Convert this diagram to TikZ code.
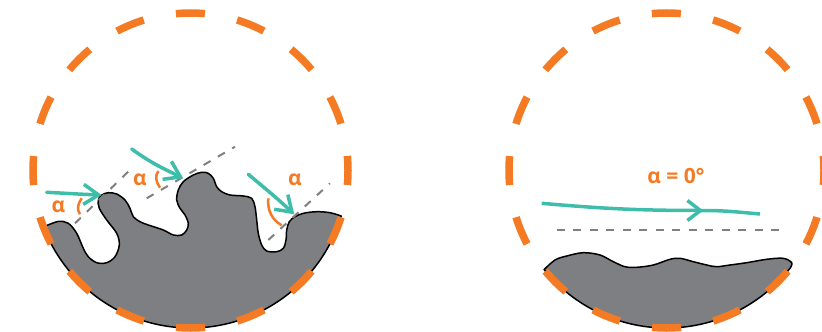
\documentclass[tikz,border=0pt]{standalone}
\usepackage{fontspec}
\setmainfont{Open Sans}
\usetikzlibrary{arrows.meta, decorations.markings}

\definecolor{rimorange}{RGB}{244,122,36}
\definecolor{rayteal}{RGB}{62,189,170}
\definecolor{rockgrey}{RGB}{126,127,130}

\begin{document}
\begin{tikzpicture}[x=1pt,y=1pt,yscale=-1,
		every node/.style={font=\fontsize{21}{24}\selectfont\bfseries}]
		\tikzstyle{rim}=[draw=rimorange, line width=7.5pt,
                  dash pattern=on 29pt off 32.85pt, dash phase=14.5pt]
		\tikzstyle{rock}=[fill=rockgrey, draw=black, line width=1.5pt, line join=round]
		\tikzstyle{ray}=[draw=rayteal, line width=3.5pt, line cap=round,
                  -{Straight Barb[length=15pt,width=20pt]}]
		\tikzstyle{midray}=[draw=rayteal, line width=3.5pt, postaction={decorate},
                  decoration={markings, mark=at position 0.74 with
                  {\arrow{Straight Barb[length=13pt,width=20pt]}}}]
		\tikzstyle{tangent}=[draw=black!50, line width=2pt, dash pattern=on 8pt off 8.5pt]
		\tikzstyle{angmark}=[draw=rimorange, line width=2.5pt]
		\tikzstyle{lbl}=[text=rimorange, inner sep=0pt]

		\useasboundingbox (0,0) rectangle (822,332);

     	\foreach \name/\x in {L/190.5, R/666.5}
       		\coordinate (\name) at (\x,170.5);

		% rough surface
		\path[rock] plot[smooth, tension=0.55] coordinates {
			(43.5,226.9) (58,221.5) (68.3,223.3) (76.7,233.3) (83.3,248.3) (88.3,256.7)
			(96.7,262.7) (106.7,262.7) (115,256.7) (119.3,245) (116.7,233.3) (106.7,220)
			(99.3,208.3) (98.3,200) (101.7,195) (108.3,192.7) (116.7,194) (125,200)
			(130,208.3) (133.3,216.7) (140,221.7) (148.3,225) (163.3,230) (173.3,235)
			(181.7,235) (186.7,230) (188.3,223.3) (185,215) (180,208.3) (176.7,200)
			(178.3,190) (183.3,181.7) (193.3,175) (201.7,172.3) (208.3,173.3) (213.3,178.3)
			(216.7,186.7) (221.7,191.7) (230,195) (243.3,196) (251.7,198.3) (255,206.7)
			(256.7,220) (258.3,233.3) (261.7,245) (266.7,251) (276.7,251.7) (283.3,248.3)
			(286,240) (286.7,230) (289.3,221.7) (295,216.7) (303.3,213.3) (316.7,211.7)
			(330,212.7) (341.3,216)}
			arc[start angle=16.8, end angle=159, radius=157.5] -- cycle;

		% smooth surface
		\path[rock] plot[smooth, tension=0.55] coordinates {
			(544.1,269.6) (555,260) (566.7,256) (583.3,252.7) (600,255) (613.3,261.7)
			(625,266.7) (636.7,267.3) (653.3,265) (670,259.3) (680,258.3) (693.3,261.7)
			(706.7,265) (716.7,266.7) (730,265) (746.7,262.7) (766.7,259.3) (783.3,258.3)
			(791.7,262.7) (790.3,267.9)}
			arc[start angle=38.2, end angle=141, radius=157.5] -- cycle;

		% tangents
     	\foreach \name/\x/\y in {p1/75/223.3, q1/133.3/166.7, p2/146.7/198.3, q2/235/146.7,
                              p3/268.3/240, q3/330/183.3, p0/556.7/230, q0/781.7/230}
       		\coordinate (\name) at (\x,\y);
		\foreach \i in {0,...,3}
			\draw[tangent] (p\i) -- (q\i);

		% angle marks
     	\foreach \name/\x/\y in {u1/81.7/198.3, v1/80/214.3, u2/158.3/171, v2/160/187.7,
                              u3/268.3/198.3, v3/281.7/225.3}
       		\coordinate (\name) at (\x,\y);
		\draw[angmark] (u1) to[out=125,in=235] (v1);
		\draw[angmark] (u2) to[out=125,in=235] (v2);
		\draw[angmark] (u3) to[out=95,in=210] (v3);

		% rays
     	\foreach \name/\x/\y in {s1/46.7/192.3, t1/101.7/195, s2/131.7/149, t2/183.3/178.3,
                              s3/248.3/174.3, t3/294.3/214.3,
                              s0/541.7/203.3, m0/703.3/210.5, t0/760/214}
       		\coordinate (\name) at (\x,\y);
		\draw[ray] (s1) to[out=3,in=182] (t1);
		\draw[ray] (s2) to[out=36,in=206] (t2);
		\draw[ray] (s3) to[out=40,in=223] (t3);
		\draw[midray] (s0) to[out=5,in=180] (m0) to[out=0,in=185] (t0);

		% rims
     	\foreach \name in {L, R}
       		\draw[rim] (\name) circle[radius=157.5];

        \node[lbl] (al1) at (58.3,206.7) {α};
        \node[lbl] (al2) at (140,180) {α};
        \node[lbl] (al3) at (295,180) {α};
        \node[lbl] (al0) at (676,176) {α = 0°};

	\end{tikzpicture}
\end{document}
